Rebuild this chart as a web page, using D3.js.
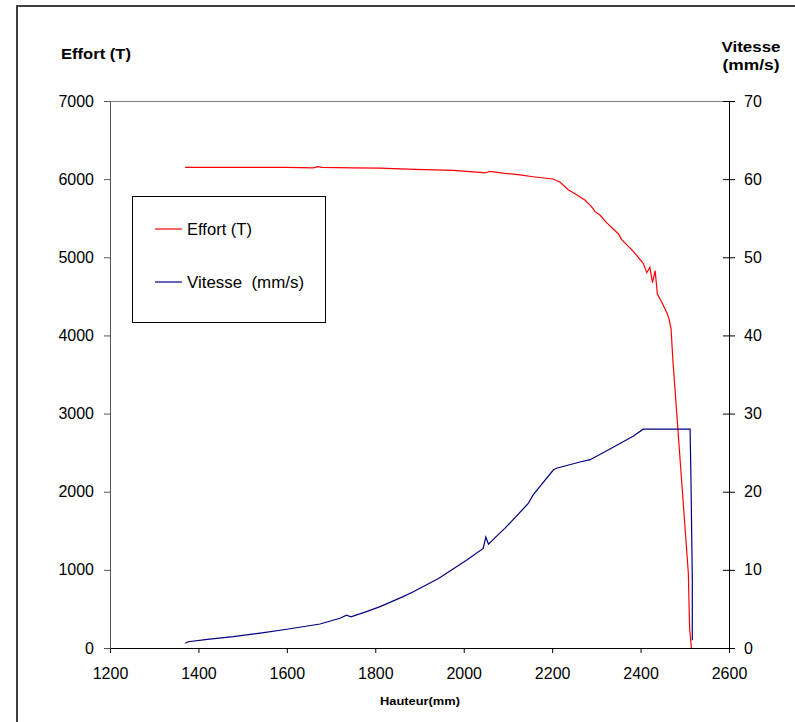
<!DOCTYPE html>
<html>
<head>
<meta charset="utf-8">
<script src="https://cdn.jsdelivr.net/npm/d3@7"></script>
<style>
  html, body { margin: 0; padding: 0; background: #fff; }
  svg { display: block; font-family: "Liberation Sans", Arial, sans-serif; }
</style>
</head>
<body>
<svg id="chart" width="795" height="722"></svg>
<script>
// Effort (T) versus hauteur (mm)
const hauteurEffort = [1370, 1500, 1600, 1660, 1670, 1680, 1750, 1810, 1890, 1977, 2029, 2048, 2059, 2093, 2123, 2157, 2202, 2218, 2237, 2248, 2274, 2289, 2297, 2308, 2323, 2350, 2357, 2383, 2406, 2414, 2421, 2427, 2433, 2438, 2450, 2460, 2465, 2469, 2473, 2508, 2511, 2515];
const effort = [6150, 6150, 6150, 6145, 6160, 6150, 6145, 6140, 6126, 6113, 6091, 6079, 6100, 6074, 6057, 6031, 6002, 5960, 5861, 5827, 5733, 5648, 5584, 5541, 5443, 5298, 5230, 5080, 4923, 4803, 4872, 4675, 4828, 4530, 4402, 4283, 4197, 4082, 3690, 960, 240, 0];

// Vitesse (mm/s) versus hauteur (mm)
const hauteurVitesse = [1370, 1377, 1420, 1479, 1540, 1600, 1675, 1720, 1735, 1745, 1780, 1811, 1863, 1886, 1943, 2007, 2044, 2050, 2056, 2078, 2093, 2146, 2157, 2203, 2210, 2263, 2286, 2338, 2383, 2406, 2512, 2514, 2517, 2517];
const vitesse = [0.6, 0.8, 1.1, 1.45, 1.9, 2.4, 3.07, 3.8, 4.2, 4.0, 4.65, 5.3, 6.57, 7.2, 8.9, 11.26, 12.75, 14.2, 13.3, 14.5, 15.3, 18.5, 19.6, 22.8, 23.0, 23.8, 24.1, 25.7, 27.1, 28.0, 28.0, 21.5, 8.7, 1.0];

// Axis ticks
const xTicks = [1200, 1400, 1600, 1800, 2000, 2200, 2400, 2600];
const effortTicks = [0, 1000, 2000, 3000, 4000, 5000, 6000, 7000];
const vitesseTicks = [0, 10, 20, 30, 40, 50, 60, 70];

const seriesNames = ["Effort (T)", "Vitesse  (mm/s)"];
const seriesColors = ["#ff0000", "#000080"];

const svg = d3.select("#chart");

const plotLeft = 110, plotRight = 729, plotTop = 101, plotBottom = 648;
const x = d3.scaleLinear().domain([1200, 2600]).range([plotLeft, plotRight]);
const yL = d3.scaleLinear().domain([0, 7000]).range([plotBottom, plotTop]);
const yR = d3.scaleLinear().domain([0, 70]).range([plotBottom, plotTop]);

// Outer chart frame
svg.append("rect")
  .attr("x", 17).attr("y", 6).attr("width", 820).attr("height", 800)
  .attr("fill", "none").attr("stroke", "#404040").attr("stroke-width", 2);

// Plot area top border
svg.append("line")
  .attr("x1", plotLeft).attr("x2", plotRight).attr("y1", plotTop + 0.5).attr("y2", plotTop + 0.5)
  .attr("stroke", "#808080").attr("stroke-width", 1);

// Axes
const styleAxis = (g, color) => {
  g.selectAll("path.domain").attr("stroke", color);
  g.selectAll(".tick line").attr("stroke", color);
  g.selectAll(".tick text").attr("fill", "#000").attr("font-size", 16)
    .attr("font-family", "'Liberation Sans', Arial, sans-serif");
};

const gx = svg.append("g").attr("transform", `translate(0,${plotBottom})`)
  .call(d3.axisBottom(x).tickValues(xTicks).tickFormat(d3.format("d")).tickSize(5).tickSizeOuter(0).tickPadding(15));
styleAxis(gx, "#000");

const gl = svg.append("g").attr("transform", `translate(${plotLeft},0)`)
  .call(d3.axisLeft(yL).tickValues(effortTicks).tickFormat(d3.format("d")).tickSize(6).tickSizeOuter(0).tickPadding(10));
styleAxis(gl, "#555");

const gr = svg.append("g").attr("transform", `translate(${plotRight},0)`)
  .call(d3.axisRight(yR).tickValues(vitesseTicks).tickFormat(d3.format("d")).tickSize(6).tickSizeOuter(0).tickPadding(9));
styleAxis(gr, "#000");
// right-axis ticks cross the axis line
gr.selectAll(".tick line").attr("x1", -6);

// Series lines
const lineE = d3.line().x((d, i) => x(hauteurEffort[i])).y(d => yL(d));
const lineV = d3.line().x((d, i) => x(hauteurVitesse[i])).y(d => yR(d));

svg.append("path").datum(effort)
  .attr("d", lineE).attr("fill", "none")
  .attr("stroke", seriesColors[0]).attr("stroke-width", 1.2);

svg.append("path").datum(vitesse)
  .attr("d", lineV).attr("fill", "none")
  .attr("stroke", seriesColors[1]).attr("stroke-width", 1.2);

// Axis titles
svg.append("text").attr("x", 61).attr("y", 59)
  .attr("font-size", 14).attr("font-weight", "bold")
  .attr("textLength", 70).attr("lengthAdjust", "spacingAndGlyphs")
  .text("Effort (T)");

svg.append("text").attr("x", 751).attr("y", 52).attr("text-anchor", "middle")
  .attr("font-size", 15).attr("font-weight", "bold")
  .attr("textLength", 59).attr("lengthAdjust", "spacingAndGlyphs")
  .text("Vitesse");
svg.append("text").attr("x", 751).attr("y", 70).attr("text-anchor", "middle")
  .attr("font-size", 15).attr("font-weight", "bold")
  .attr("textLength", 57).attr("lengthAdjust", "spacingAndGlyphs")
  .text("(mm/s)");

svg.append("text").attr("x", 420).attr("y", 705).attr("text-anchor", "middle")
  .attr("font-size", 11).attr("font-weight", "bold")
  .attr("textLength", 80).attr("lengthAdjust", "spacingAndGlyphs")
  .text("Hauteur(mm)");

// Legend
const legend = svg.append("g");
legend.append("rect")
  .attr("x", 132.5).attr("y", 196.5).attr("width", 193).attr("height", 126)
  .attr("fill", "#fff").attr("stroke", "#000").attr("stroke-width", 1);

const legendY = [229, 282];
const legendTextWidth = [65, 117];
seriesNames.forEach((name, i) => {
  legend.append("line")
    .attr("x1", 155).attr("x2", 182).attr("y1", legendY[i]).attr("y2", legendY[i])
    .attr("stroke", seriesColors[i]).attr("stroke-width", 1.2);
  legend.append("text")
    .attr("x", 187).attr("y", legendY[i] + 6)
    .attr("font-size", 16)
    .attr("xml:space", "preserve")
    .style("white-space", "pre")
    .attr("textLength", legendTextWidth[i]).attr("lengthAdjust", "spacingAndGlyphs")
    .text(name);
});
</script>
</body>
</html>
